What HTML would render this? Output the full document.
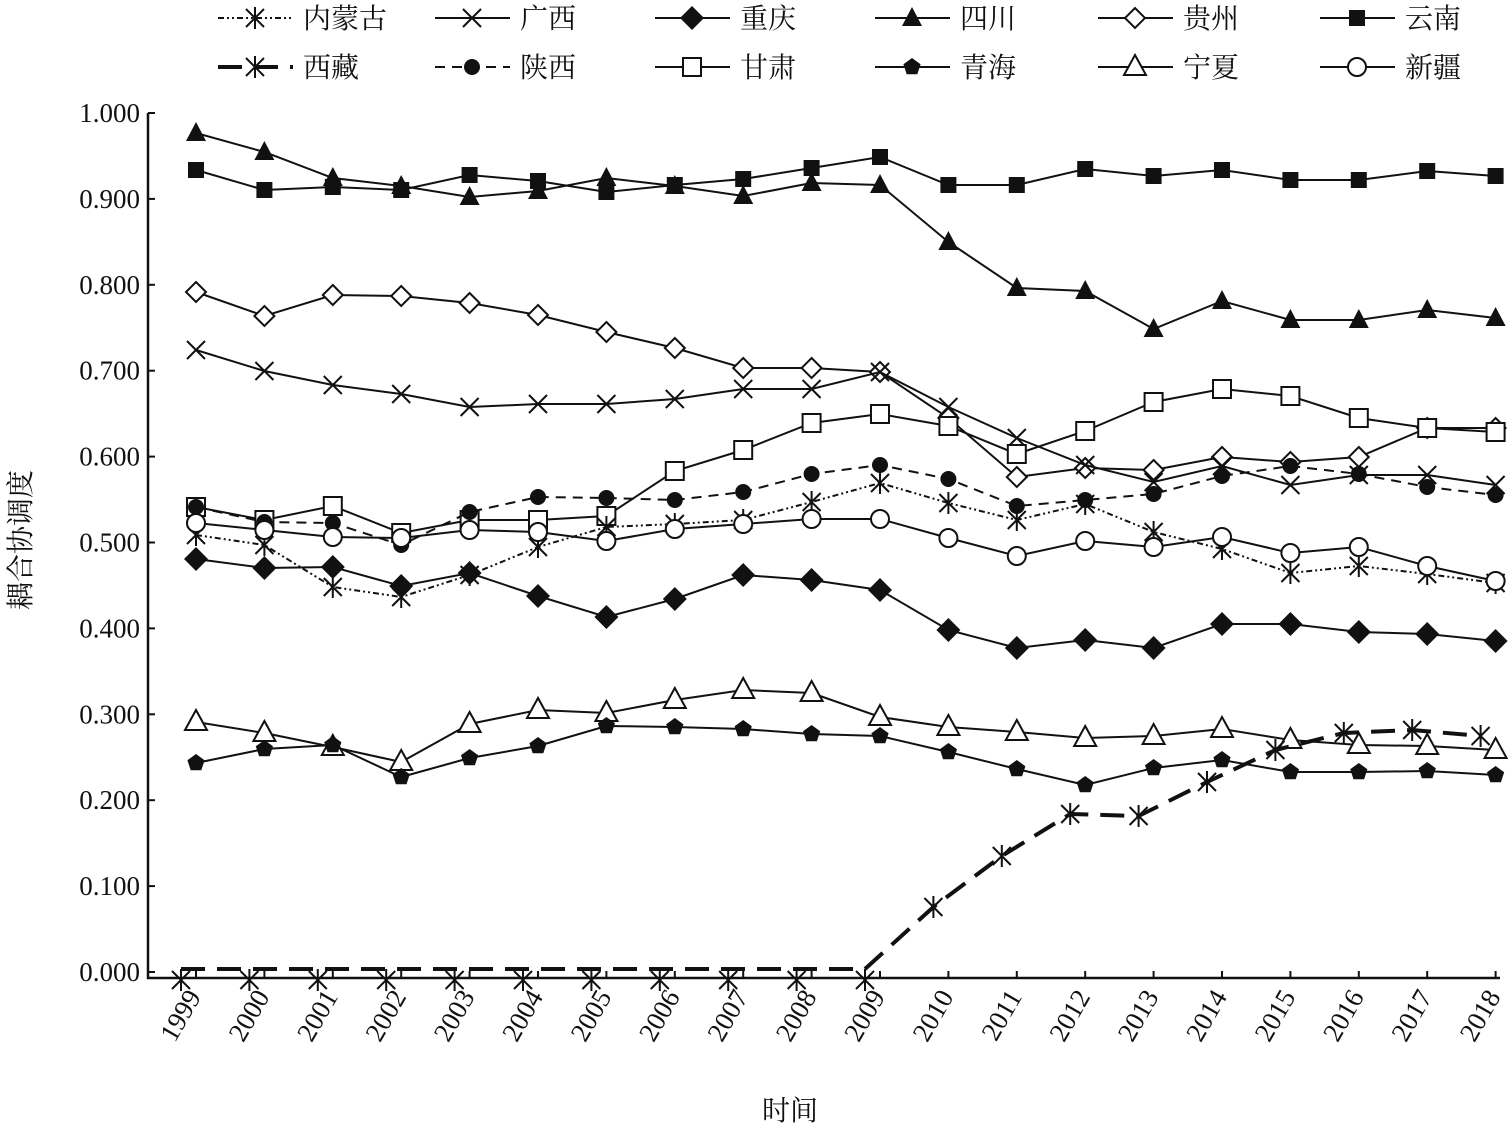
<!DOCTYPE html>
<html><head><meta charset="utf-8"><style>
body{margin:0;background:#fff;}
svg text{font-family:"Liberation Serif","Noto Serif CJK SC",serif;fill:#111;}
</style></head><body>
<svg id="s" width="1508" height="1126" xmlns="http://www.w3.org/2000/svg"></svg>
<script>
const s=document.getElementById('s');let h='';
const X0=196,DX=68.4;
function mk(t,x,y){switch(t){
case 'sqf':return `<rect x="${x-8}" y="${y-8}" width="16" height="16" fill="#111"/>`;
case 'sqo':return `<rect x="${x-9}" y="${y-9}" width="18" height="18" fill="#fff" stroke="#111" stroke-width="2"/>`;
case 'trf':return `<polygon points="${x},${y-11} ${x-10},${y+8} ${x+10},${y+8}" fill="#111"/>`;
case 'tro':return `<polygon points="${x},${y-12} ${x-11},${y+8} ${x+11},${y+8}" fill="#fff" stroke="#111" stroke-width="2"/>`;
case 'dmf':return `<polygon points="${x},${y-12} ${x+12},${y} ${x},${y+12} ${x-12},${y}" fill="#111"/>`;
case 'dmo':return `<polygon points="${x},${y-10} ${x+10},${y} ${x},${y+10} ${x-10},${y}" fill="#fff" stroke="#111" stroke-width="2"/>`;
case 'x':return `<path d="M${x-9} ${y-9}L${x+9} ${y+9}M${x-9} ${y+9}L${x+9} ${y-9}" stroke="#111" stroke-width="2"/>`;
case 'ast':return `<path d="M${x-9} ${y-9}L${x+9} ${y+9}M${x-9} ${y+9}L${x+9} ${y-9}M${x} ${y-11}V${y+11}" stroke="#111" stroke-width="2"/>`;
case 'cf':return `<circle cx="${x}" cy="${y}" r="8" fill="#111"/>`;
case 'co':return `<circle cx="${x}" cy="${y}" r="9" fill="#fff" stroke="#111" stroke-width="2"/>`;
case 'pf':{let p=[];for(let i=0;i<5;i++){const a=-Math.PI/2+i*2*Math.PI/5;p.push((x+9*Math.cos(a)).toFixed(1)+','+(y+9*Math.sin(a)).toFixed(1));}return `<polygon points="${p.join(' ')}" fill="#111"/>`;}
}}
const S=[
['云南','sqf','',[170,190,187,190,175,181,192,185,179,168,157,185,185,169,176,170,180,180,171,176],2],
['四川','trf','',[133,152,178,186,197,191,178,186,196,183,185,242,288,291,329,301,320,320,310,318],2],
['贵州','dmo','',[292,316,295,296,303,315,332,348,368,368,372,418,477,468,470,457,462,457,428,428],2],
['广西','x','',[350,371,385,394,407,404,404,399,389,389,372,407,438,465,482,466,485,475,475,485],2],
['甘肃','sqo','',[507,520,506,533,520,520,516,471,450,423,414,426,454,431,402,389,396,418,428,432],2],
['陕西','cf','10,7',[507,522,523,545,512,497,498,500,492,474,465,479,506,500,494,476,466,474,487,495],2],
['内蒙古','ast','6,3,2,3,2,3',[535,545,587,597,575,547,527,524,520,502,483,503,520,504,532,549,573,566,574,583],2],
['新疆','co','',[523,530,537,538,530,532,541,529,524,519,519,538,556,541,547,537,553,547,566,581],2],
['重庆','dmf','',[559,568,567,586,573,596,617,599,575,580,590,630,648,640,648,624,624,632,634,641],2],
['宁夏','tro','',[722,733,747,762,724,710,713,700,690,693,717,727,732,738,736,729,740,745,746,750],2],
['青海','pf','',[763,749,745,777,758,746,726,727,729,734,736,752,769,785,768,760,772,772,771,775],2],
['西藏','ast','24,12',[969,969,969,969,969,969,969,969,969,969,969,907,856,814,816,782,750,733,730,736],4]
];
h+=`<path d="M148 113V978H1500" fill="none" stroke="#111" stroke-width="2.5"/>`;
for(let i=0;i<=10;i++){const y=972-i*85.9;h+=`<line x1="148" y1="${y}" x2="155" y2="${y}" stroke="#111" stroke-width="2"/>`;
h+=`<text x="140" y="${y+9}" font-size="27" text-anchor="end">${(i/10).toFixed(3)}</text>`;}
for(let i=0;i<20;i++){const x=X0+i*DX;h+=`<line x1="${x}" y1="978" x2="${x}" y2="971" stroke="#111" stroke-width="2"/>`;
h+=`<text transform="translate(${x-2},${992}) rotate(-60)" font-size="27" text-anchor="end" dy="9">${1999+i}</text>`;}
h+=`<text x="790" y="1120" font-size="28" text-anchor="middle">时间</text>`;
h+=`<text transform="translate(30,540) rotate(-90)" font-size="28" text-anchor="middle">耦合协调度</text>`;
for(const [n,m,d,ys,w] of S){const xo=n==='西藏'?-15:0;
h+=`<polyline points="${ys.map((y,i)=>(X0+i*DX+xo).toFixed(1)+','+y).join(' ')}" fill="none" stroke="#111" stroke-width="${w}" ${d?`stroke-dasharray="${d}"`:''}/>`;
ys.forEach((y,i)=>h+=mk(m,X0+i*DX+xo,n==='西藏'&&i<=10?980:y));}
const L=[['内蒙古','ast','6,3,2,3,2,3',2],['广西','x','',2],['重庆','dmf','',2],['四川','trf','',2],['贵州','dmo','',2],['云南','sqf','',2],
['西藏','ast','24,12',4],['陕西','cf','10,7',2],['甘肃','sqo','',2],['青海','pf','',2],['宁夏','tro','',2],['新疆','co','',2]];
const cx=[218,435,655,875,1098,1320];
L.forEach((e,k)=>{const r=Math.floor(k/6),c=k%6,x=cx[c],y=r?67:18;
h+=`<line x1="${x}" y1="${y}" x2="${x+75}" y2="${y}" stroke="#111" stroke-width="${e[3]}" ${e[2]?`stroke-dasharray="${e[2]}"`:''}/>`;
h+=mk(e[1],x+37,y);h+=`<text x="${x+85}" y="${y+10}" font-size="28">${e[0]}</text>`;});
s.innerHTML=h;
</script>
</body></html>
